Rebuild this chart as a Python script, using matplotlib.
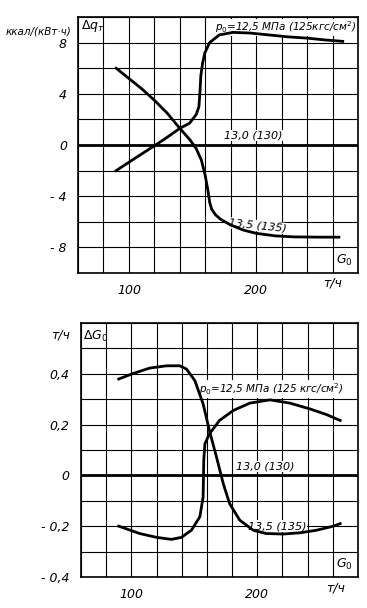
import matplotlib
matplotlib.use("Agg")
import matplotlib.pyplot as plt
import numpy as np

# ---- data (top panel: Δq_т, kcal/(kWh)) ----
top_x_125 = [90, 100, 110, 121, 130, 140, 147.6, 153, 155, 155.8, 156.5, 157.9, 159.7, 163.4, 171, 181.7, 195, 210, 225, 240, 255, 268]
top_y_125 = [-2.0, -1.35, -0.7, 0.0, 0.6, 1.3, 1.7, 2.4, 3.0, 4.1, 5.4, 6.4, 7.2, 8.0, 8.6, 8.8, 8.75, 8.6, 8.45, 8.35, 8.2, 8.1]
top_x_135 = [90, 100, 110, 120, 130, 140, 148, 153, 157, 160, 162, 163.5, 165, 168, 172, 180, 190, 200, 215, 230, 250, 265]
top_y_135 = [6.0, 5.2, 4.4, 3.5, 2.5, 1.3, 0.4, -0.3, -1.2, -2.4, -3.5, -4.5, -5.0, -5.45, -5.8, -6.25, -6.65, -6.9, -7.1, -7.18, -7.2, -7.2]
top_x_130 = [60, 280]
top_y_130 = [0, 0]

# ---- data (bottom panel: ΔG0, t/h) ----
bot_x_125 = [90, 106.6, 120, 131.8, 139.8, 147.7, 154.4, 157, 157.5, 158.4, 162, 170, 180.9, 194, 210, 226, 242, 255, 265.8]
bot_y_125 = [-0.20, -0.229, -0.244, -0.252, -0.244, -0.216, -0.163, -0.085, 0.059, 0.124, 0.163, 0.216, 0.255, 0.284, 0.297, 0.284, 0.261, 0.239, 0.216]
bot_x_135 = [90, 101, 114.6, 127.9, 138.5, 143.8, 150.4, 157, 162, 167.6, 173, 178, 186, 196.8, 207, 220.7, 234, 247, 260.5, 265.8]
bot_y_135 = [0.379, 0.40, 0.422, 0.431, 0.431, 0.418, 0.373, 0.281, 0.176, 0.072, -0.033, -0.111, -0.176, -0.216, -0.229, -0.231, -0.226, -0.216, -0.20, -0.19]
bot_x_130 = [60, 280]
bot_y_130 = [0, 0]

top_yticks = [-8, -4, 0, 4, 8]
top_yticklabels = ["- 8", "- 4", "0", "4", "8"]
bot_yticks = [-0.4, -0.2, 0, 0.2, 0.4]
bot_yticklabels = ["- 0,4", "- 0,2", "0", "0,2", "0,4"]
xticks = [100, 200]
xticklabels = ["100", "200"]

FONT = dict(family="DejaVu Sans", style="italic")
BOX = dict(facecolor="white", edgecolor="none", pad=0.5)
fig = plt.figure(figsize=(3.67, 6.08), dpi=100)

def setup(ax, ylim, ystep, yticks, yticklabels):
    ax.set_xlim(60, 280)
    ax.set_ylim(*ylim)
    for gx in np.arange(60, 281, 20):
        ax.axvline(gx, color="black", lw=0.8, zorder=1)
    for gy in np.arange(ylim[0], ylim[1] + 1e-9, ystep):
        ax.axhline(gy, color="black", lw=0.8, zorder=1)
    ax.set_xticks(xticks)
    ax.set_xticklabels(xticklabels, fontsize=9, **FONT)
    ax.set_yticks(yticks)
    ax.set_yticklabels(yticklabels, fontsize=9, **FONT)
    ax.tick_params(length=0, pad=8)
    for s in ax.spines.values():
        s.set_linewidth(1.2)

# top
ax1 = fig.add_axes([0.2125, 0.551, 0.763, 0.421])
setup(ax1, (-10, 10), 2, top_yticks, top_yticklabels)
ax1.plot(top_x_125, top_y_125, color="black", lw=2, zorder=3)
ax1.plot(top_x_135, top_y_135, color="black", lw=2, zorder=3)
ax1.plot(top_x_130, top_y_130, color="black", lw=2, zorder=3)
ax1.text(223, 9.2, r"$p_0$=12,5 МПа (125кгс/см$^2$)", fontsize=7.5, ha="center", va="center", bbox=BOX, zorder=2, **FONT)
ax1.text(198, 0.75, "13,0 (130)", fontsize=8, ha="center", va="center", bbox=BOX, zorder=2, **FONT)
ax1.text(201, -6.3, "13,5 (135)", fontsize=8, ha="center", va="center", rotation=-6, bbox=BOX, zorder=2, **FONT)
ax1.text(62, 9.3, r"$\Delta q_т$", fontsize=9, ha="left", va="center", **FONT)
ax1.text(276, -9.0, r"$G_0$", fontsize=9, ha="right", va="center", **FONT)
fig.text(0.015, 0.948, "ккал/(кВт·ч)", fontsize=7.5, ha="left", va="center", **FONT)
fig.text(0.905, 0.535, "т/ч", fontsize=9, ha="center", va="center", **FONT)

# bottom
ax2 = fig.add_axes([0.2206, 0.051, 0.755, 0.418])
setup(ax2, (-0.4, 0.6), 0.1, bot_yticks, bot_yticklabels)
ax2.plot(bot_x_125, bot_y_125, color="black", lw=2, zorder=3)
ax2.plot(bot_x_135, bot_y_135, color="black", lw=2, zorder=3)
ax2.plot(bot_x_130, bot_y_130, color="black", lw=2, zorder=3)
ax2.text(211, 0.34, r"$p_0$=12,5 МПа (125 кгс/см$^2$)", fontsize=7.5, ha="center", va="center", bbox=BOX, zorder=2, **FONT)
ax2.text(206, 0.035, "13,0 (130)", fontsize=8, ha="center", va="center", bbox=BOX, zorder=2, **FONT)
ax2.text(216, -0.2, "13,5 (135)", fontsize=8, ha="center", va="center", bbox=BOX, zorder=2, **FONT)
ax2.text(62, 0.545, r"$\Delta G_0$", fontsize=9, ha="left", va="center", **FONT)
ax2.text(276, -0.35, r"$G_0$", fontsize=9, ha="right", va="center", **FONT)
fig.text(0.165, 0.449, "т/ч", fontsize=9, ha="center", va="center", **FONT)
fig.text(0.915, 0.033, "т/ч", fontsize=9, ha="center", va="center", **FONT)

fig.savefig("out.png", dpi=100, facecolor="white")
